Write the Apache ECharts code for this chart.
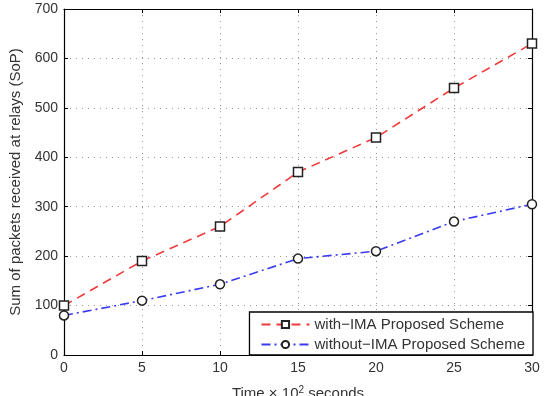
<!DOCTYPE html>
<html>
<head>
<meta charset="utf-8">
<script src="https://cdn.jsdelivr.net/npm/echarts@6/dist/echarts.min.js"></script>
<style>
  html, body { margin: 0; padding: 0; background: #fff; }
  #main { width: 546px; height: 396px; }
</style>
</head>
<body>
<div id="main"></div>
<script>
var myChart = echarts.init(document.getElementById('main'));

// data
var times = [0, 5, 10, 15, 20, 25, 30];
var withIMA = [100, 190, 260, 370, 440, 540, 630];
var withoutIMA = [80, 110, 143, 195, 210, 270, 305];

function pairs(ys) {
    return times.map(function (t, i) { return [t, ys[i]]; });
}

var font = 'Liberation Sans, Arial, sans-serif';
var txt = '#333';
var boxAxis = {
    axisLine: { show: true, onZero: false, lineStyle: { color: '#000', width: 1.2 } },
    axisTick: { show: true, inside: true, length: 4, lineStyle: { color: '#000' } },
    axisLabel: { show: false },
    splitLine: { show: false }
};

var option = {
    animation: false,
    grid: { left: 64, right: 14, top: 9, bottom: 41, outerBoundsMode: 'none', containLabel: false },
    legend: {
        right: 13,
        bottom: 41,
        orient: 'vertical',
        backgroundColor: '#fff',
        borderColor: '#000',
        borderWidth: 1.3,
        borderRadius: 0,
        padding: [5, 8, 3, 11],
        itemGap: 5,
        itemWidth: 48,
        itemHeight: 9,
        textStyle: { fontFamily: font, fontSize: 15, color: txt },
        data: ['with\u2212IMA Proposed Scheme', 'without\u2212IMA Proposed Scheme']
    },
    xAxis: [{
        type: 'value',
        min: 0, max: 30, interval: 5,
        name: 'Time \u00d7 10{sup|2} seconds',
        nameLocation: 'middle',
        nameGap: 30,
        nameTextStyle: {
            fontFamily: font, fontSize: 15, color: txt,
            rich: { sup: { fontSize: 10, verticalAlign: 'top', padding: [0, 0, 7, 0], fontFamily: font, color: txt } }
        },
        axisLine: { show: true, onZero: false, lineStyle: { color: '#000', width: 1.2 } },
        axisTick: { show: true, inside: true, length: 4, lineStyle: { color: '#000' } },
        axisLabel: { fontFamily: font, fontSize: 14, color: txt, margin: 6 },
        splitLine: { show: true, lineStyle: { color: '#999', type: [1, 5] } }
    }, Object.assign({ type: 'value', position: 'top', min: 0, max: 30, interval: 5 }, boxAxis)],
    yAxis: [{
        type: 'value',
        min: 0, max: 700, interval: 100,
        name: 'Sum of packets received at relays (SoP)',
        nameLocation: 'middle',
        nameGap: 41,
        nameTextStyle: { fontFamily: font, fontSize: 15, color: txt },
        axisLine: { show: true, onZero: false, lineStyle: { color: '#000', width: 1.2 } },
        axisTick: { show: true, inside: true, length: 4, lineStyle: { color: '#000' } },
        axisLabel: { fontFamily: font, fontSize: 14, color: txt, margin: 6 },
        splitLine: { show: true, lineStyle: { color: '#999', type: [1, 5] } }
    }, Object.assign({ type: 'value', position: 'right', min: 0, max: 700, interval: 100 }, boxAxis)],
    series: [{
        name: 'with\u2212IMA Proposed Scheme',
        type: 'line',
        data: pairs(withIMA),
        symbol: 'rect',
        symbolSize: 9,
        clip: false,
        lineStyle: { color: '#f03a3a', width: 1.6, type: [9, 6] },
        itemStyle: { color: '#fff', borderColor: '#222', borderWidth: 1.5 },
        z: 3
    }, {
        name: 'without\u2212IMA Proposed Scheme',
        type: 'line',
        data: pairs(withoutIMA),
        symbol: 'circle',
        symbolSize: 9,
        clip: false,
        lineStyle: { color: '#3a3af0', width: 1.6, type: [9, 4, 2, 4] },
        itemStyle: { color: '#fff', borderColor: '#222', borderWidth: 1.5 },
        z: 3
    }]
};

myChart.setOption(option);
</script>
</body>
</html>
